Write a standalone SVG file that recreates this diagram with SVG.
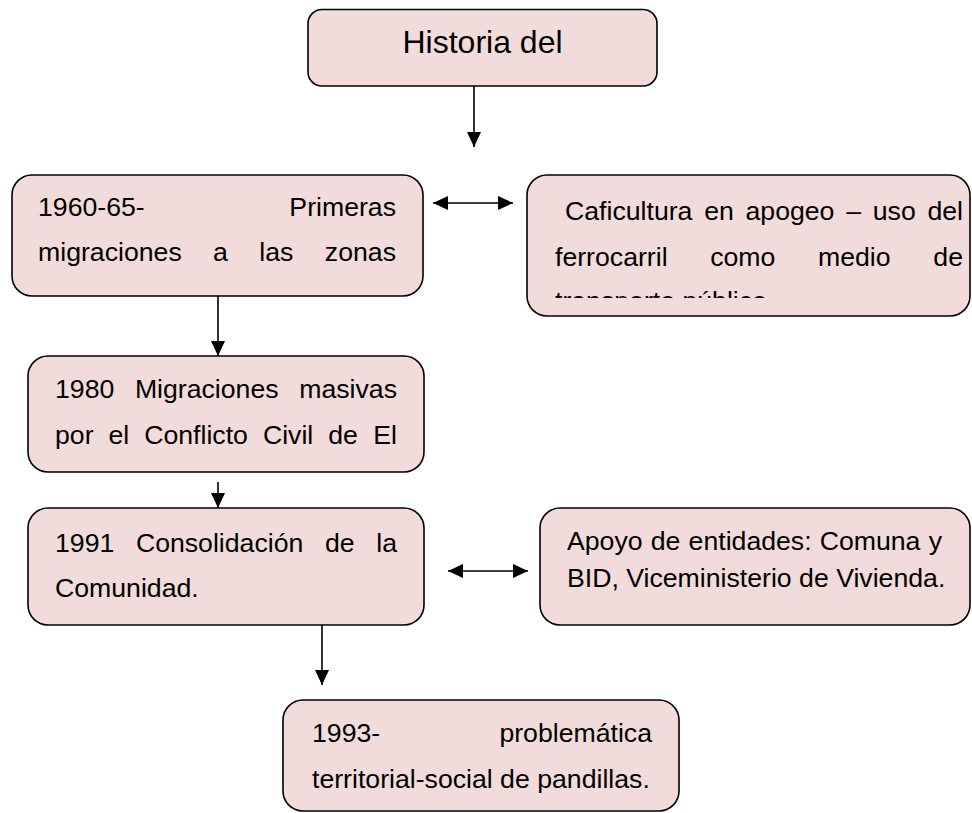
<svg xmlns="http://www.w3.org/2000/svg" width="972" height="813" viewBox="0 0 972 813">
<style>
.box{fill:#f2dcdb;stroke:#000;stroke-width:1.6}
.t{font-family:"Liberation Sans",Arial,sans-serif;font-size:26.67px;fill:#000}
.title{font-family:"Liberation Sans",Arial,sans-serif;font-size:32px;fill:#000}
.e{text-anchor:end}
.conn{stroke:#000;stroke-width:1.6;fill:none}
</style>
<defs>
<marker id="ah" markerUnits="userSpaceOnUse" markerWidth="16" markerHeight="15" refX="15" refY="7" orient="auto-start-reverse">
<path d="M0,0 L15,7 L0,14 z" fill="#000"/>
</marker>
<clipPath id="cafeClip"><rect x="527" y="175" width="445" height="123"/></clipPath>
</defs>
<rect width="972" height="813" fill="#fff"/>

<g id="connectors">
<line class="conn" x1="474" y1="86" x2="474" y2="147" marker-end="url(#ah)"/>
<line class="conn" x1="433" y1="203" x2="513" y2="203" marker-start="url(#ah)" marker-end="url(#ah)"/>
<line class="conn" x1="218" y1="296" x2="218" y2="356" marker-end="url(#ah)"/>
<line class="conn" x1="218" y1="482" x2="218" y2="508" marker-end="url(#ah)"/>
<line class="conn" x1="448" y1="571" x2="528" y2="571" marker-start="url(#ah)" marker-end="url(#ah)"/>
<line class="conn" x1="322" y1="625" x2="322" y2="685" marker-end="url(#ah)"/>
</g>

<g id="node-historia">
<rect class="box" x="308" y="9.5" width="349" height="76.5" rx="14"/>
<text class="title" x="482.5" y="53" text-anchor="middle">Historia del</text>
</g>

<g id="node-1960">
<rect class="box" x="12" y="175" width="411" height="121" rx="20"/>
<text class="t" y="216"><tspan x="38">1960-65-</tspan></text>
<text class="t e" x="396" y="216">Primeras</text>
<text class="t" y="261"><tspan x="38">migraciones</tspan><tspan x="213.1">a</tspan><tspan x="259.3">las</tspan></text>
<text class="t e" x="396" y="261">zonas</text>
</g>

<g id="node-caficultura">
<rect class="box" x="527" y="175" width="443" height="141" rx="20"/>
<text class="t" y="220"><tspan x="565">Caficultura</tspan><tspan x="704.2">en</tspan><tspan x="745.5">apogeo</tspan><tspan x="846.2">–</tspan><tspan x="872.8">uso</tspan></text>
<text class="t e" x="963" y="220">del</text>
<text class="t" y="266"><tspan x="555">ferrocarril</tspan><tspan x="710.2">como</tspan><tspan x="818">medio</tspan></text>
<text class="t e" x="963" y="266">de</text>
<text class="t" x="555" y="310" clip-path="url(#cafeClip)">transporte público</text>
</g>

<g id="node-1980">
<rect class="box" x="28" y="356" width="396" height="116" rx="20"/>
<text class="t" y="398"><tspan x="55">1980</tspan><tspan x="134.9">Migraciones</tspan></text>
<text class="t e" x="397" y="398">masivas</text>
<text class="t" y="444"><tspan x="55">por</tspan><tspan x="108.5">el</tspan><tspan x="144.2">Conflicto</tspan><tspan x="262.9">Civil</tspan><tspan x="328.3">de</tspan></text>
<text class="t e" x="397" y="444">El</text>
</g>

<g id="node-1991">
<rect class="box" x="28" y="508" width="396" height="117" rx="20"/>
<text class="t" y="552"><tspan x="55">1991</tspan><tspan x="135.9">Consolidación</tspan><tspan x="325">de</tspan></text>
<text class="t e" x="397" y="552">la</text>
<text class="t" x="55" y="597">Comunidad.</text>
</g>

<g id="node-apoyo">
<rect class="box" x="540" y="508" width="430" height="117" rx="20"/>
<text class="t" y="550"><tspan x="567">Apoyo</tspan><tspan x="650.8">de</tspan><tspan x="688.6">entidades:</tspan><tspan x="819.7">Comuna</tspan></text>
<text class="t e" x="942" y="550">y</text>
<text class="t" x="567" y="587">BID, Viceministerio de Vivienda.</text>
</g>

<g id="node-1993">
<rect class="box" x="283" y="700" width="396" height="111" rx="20"/>
<text class="t" x="312" y="742">1993-</text>
<text class="t e" x="652" y="742">problemática</text>
<text class="t" x="312" y="788">territorial-social de pandillas.</text>
</g>
</svg>
